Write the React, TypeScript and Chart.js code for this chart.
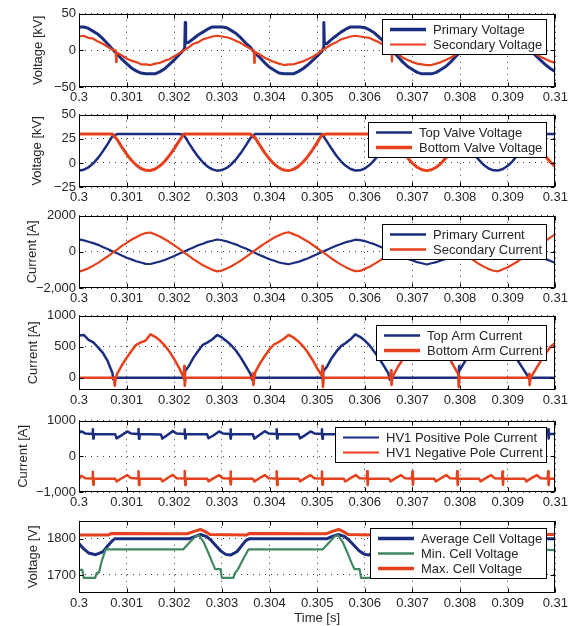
import React, { useEffect, useRef } from "react";
import { Chart, registerables } from "chart.js";

Chart.register(...registerables);

const FONT = '"Liberation Sans", Arial, Helvetica, sans-serif';
const TEXT = "#262626";
const BLUE = "#1b2d7f";
const RED = "#e5411c";
const GREEN = "#3f8862";

// ---------- shared time axis ----------
const TIME = [
  0.3, 0.3001, 0.3002, 0.3003, 0.3004, 0.3005, 0.3006, 0.3007, 0.3008, 0.3009,
  0.301, 0.3011, 0.3012, 0.3013, 0.3014, 0.3015, 0.3016, 0.3017, 0.3018, 0.3019,
  0.302, 0.3021, 0.3022, 0.3023, 0.3024, 0.3025, 0.3026, 0.3027, 0.3028, 0.3029,
  0.303, 0.3031, 0.3032, 0.3033, 0.3034, 0.3035, 0.3036, 0.3037, 0.3038, 0.3039,
  0.304, 0.3041, 0.3042, 0.3043, 0.3044, 0.3045, 0.3046, 0.3047, 0.3048, 0.3049,
  0.305, 0.3051, 0.3052, 0.3053, 0.3054, 0.3055, 0.3056, 0.3057, 0.3058, 0.3059,
  0.306, 0.3061, 0.3062, 0.3063, 0.3064, 0.3065, 0.3066, 0.3067, 0.3068, 0.3069,
  0.307, 0.3071, 0.3072, 0.3073, 0.3074, 0.3075, 0.3076, 0.3077, 0.3078, 0.3079,
  0.308, 0.3081, 0.3082, 0.3083, 0.3084, 0.3085, 0.3086, 0.3087, 0.3088, 0.3089,
  0.309, 0.3091, 0.3092, 0.3093, 0.3094, 0.3095, 0.3096, 0.3097, 0.3098, 0.3099,
  0.31,
];
const X_TICKS = [0.3, 0.301, 0.302, 0.303, 0.304, 0.305, 0.306, 0.307, 0.308, 0.309, 0.31];
const X_TICK_LABELS = ["0.3", "0.301", "0.302", "0.303", "0.304", "0.305", "0.306", "0.307", "0.308", "0.309", "0.31"];

// ---------- panel 1: voltages [kV] ----------
const PRIMARY_VOLTAGE = [
  32, 32, 30, 26, 22, 16, 9, 2, -5, -12,
  -18, -24, -28, -31, -32, -32, -32, -29, -25, -19,
  -13, -6, 1, 11, 16, 21, 25, 29, 32, 32,
  32, 31, 27, 23, 17, 10, 4, -4, -10, -17,
  -23, -27, -31, -32, -32, -32, -29, -25, -20, -14,
  -8, -1, 9, 15, 20, 25, 29, 32, 32, 32,
  31, 28, 24, 18, 12, 5, -2, -9, -16, -22,
  -26, -30, -32, -32, -32, -30, -26, -22, -16, -9,
  -2, 10, 14, 19, 24, 28, 31, 32, 32, 32,
  29, 25, 19, 13, 6, -1, -8, -14, -20, -25,
  -29,
];
const PRIMARY_VOLTAGE_SPIKES = [
  [0.30222, 4], [0.30223, 38], [0.30224, 10],
  [0.30513, 3], [0.30514, 38], [0.30515, 10],
  [0.30805, 2], [0.30806, 38], [0.30807, 9],
];
const SECONDARY_VOLTAGE = [
  19, 20, 17, 16, 12, 9, 5, 1, -3, -7,
  -11, -14, -16, -19, -19, -20, -18, -17, -14, -12,
  -8, -4, 0, 4, 9, 11, 15, 17, 19, 20,
  19, 18, 16, 13, 10, 6, 2, -2, -6, -10,
  -13, -16, -18, -20, -19, -19, -17, -15, -12, -9,
  -5, 0, 4, 8, 11, 15, 17, 19, 20, 19,
  18, 17, 14, 11, 7, 3, -1, -5, -10, -13,
  -16, -18, -19, -20, -20, -18, -16, -13, -10, -6,
  -1, 3, 7, 11, 14, 16, 19, 20, 20, 19,
  17, 15, 12, 8, 4, 0, -5, -9, -12, -15,
  -17,
];
const SECONDARY_VOLTAGE_SPIKES = [
  [0.30077, 0], [0.30078, -16], [0.30079, -3],
  [0.30367, 0], [0.30368, -17], [0.30369, -2],
  [0.30656, 0], [0.30657, -15], [0.30658, -1],
];
const P1_Y_TICKS = [-50, -25, 0, 25, 50];
const P1_Y_LABELS = ["\u221250", "\u221225", "0", "25", "50"];

// ---------- panel 2: valve voltages [kV] ----------
const TOP_VALVE_VOLTAGE = [
  -8, -7, -4.5, -0.4, 5.2, 12, 19.5, 27.5, 30, 30,
  30, 30, 30, 30, 30, 30, 30, 30, 30, 30,
  30, 30, 29.2, 21.1, 13.4, 6.5, 0.7, -3.8, -6.7, -8,
  -7.4, -5.2, -1.3, 4, 10.5, 18, 25.9, 30, 30, 30,
  30, 30, 30, 30, 30, 30, 30, 30, 30, 30,
  30, 30, 22.7, 14.9, 7.8, 1.7, -3, -6.3, -7.8, -7.7,
  -5.8, -2.2, 2.8, 9.1, 16.4, 24.3, 30, 30, 30, 30,
  30, 30, 30, 30, 30, 30, 30, 30, 30, 30,
  30, 24.3, 16.4, 9.1, 2.8, -2.2, -5.8, -7.7, -7.8, -6.3,
  -3, 1.7, 7.8, 14.9, 22.7, 30, 30, 30, 30, 30,
  30,
];
const BOTTOM_VALVE_VOLTAGE = [
  30, 30, 30, 30, 30, 30, 30, 30, 24.3, 16.4,
  9.1, 2.8, -2.2, -5.8, -7.7, -7.8, -6.3, -3, 1.7, 7.8,
  14.9, 22.7, 30, 30, 30, 30, 30, 30, 30, 30,
  30, 30, 30, 30, 30, 30, 30, 25.9, 18, 10.5,
  4, -1.3, -5.2, -7.4, -8, -6.7, -3.8, 0.7, 6.5, 13.4,
  21.1, 29.2, 30, 30, 30, 30, 30, 30, 30, 30,
  30, 30, 30, 30, 30, 30, 27.5, 19.5, 12, 5.2,
  -0.4, -4.5, -7.1, -8, -7.1, -4.5, -0.4, 5.2, 12, 19.5,
  27.5, 30, 30, 30, 30, 30, 30, 30, 30, 30,
  30, 30, 30, 30, 30, 29.2, 21.1, 13.4, 6.5, 0.7,
  -3.8,
];
const P2_Y_TICKS = [-25, 0, 25, 50];
const P2_Y_LABELS = ["\u221225", "0", "25", "50"];

// ---------- panel 3: currents [A] ----------
const PRIMARY_CURRENT = [
  690, 640, 560, 485, 390, 270, 160, 40, -80, -205,
  -320, -415, -520, -590, -665, -670, -600, -535, -445, -335,
  -230, -105, 10, 135, 245, 365, 455, 555, 615, 685,
  645, 585, 490, 405, 290, 185, 60, -60, -185, -290,
  -405, -490, -585, -640, -685, -615, -555, -455, -365, -245,
  -135, -10, 110, 225, 345, 435, 540, 600, 675, 655,
  600, 510, 430, 310, 210, 80, -35, -160, -265, -385,
  -470, -570, -630, -695, -630, -570, -470, -385, -265, -160,
  -35, 90, 200, 320, 415, 520, 590, 665, 665, 615,
  525, 445, 335, 230, 105, -15, -135, -260, -400, -500,
  -610,
];
const SECONDARY_CURRENT = [
  -1100, -1010, -905, -760, -610, -430, -255, -55, 130, 330,
  500, 675, 815, 950, 1045, 1075, 965, 850, 700, 545,
  360, 180, -25, -210, -400, -570, -740, -870, -995, -1080,
  -1035, -920, -795, -635, -475, -285, -95, 100, 285, 475,
  635, 795, 920, 1035, 1090, 985, 880, 730, 580, 395,
  215, 15, -170, -365, -535, -705, -845, -975, -1065, -1055,
  -940, -825, -665, -510, -320, -140, 60, 245, 440, 600,
  770, 895, 1015, 1095, 1010, 905, 760, 610, 430, 255,
  55, -130, -330, -500, -675, -815, -950, -1045, -1075, -965,
  -850, -700, -545, -360, -180, 25, 210, 400, 620, 800,
  980,
];
const P3_Y_TICKS = [-2000, -1000, 0, 1000, 2000];
const P3_Y_LABELS = ["\u22122,000", "\u22121,000", "0", "1,000", "2000"];

// ---------- panel 4: arm currents [A] ----------
const TOP_ARM_CURRENT = [
  680, 690, 610, 570, 490, 400, 270, 80, 0, 0,
  0, 0, 0, 0, 0, 0, 0, 0, 0, 0,
  0, 0, 0, 180, 320, 430, 530, 570, 620, 690,
  650, 590, 520, 430, 320, 190, 60, 0, 0, 0,
  0, 0, 0, 0, 0, 0, 0, 0, 0, 0,
  0, 0, 170, 310, 420, 510, 560, 620, 700, 660,
  600, 520, 420, 310, 190, 60, 0, 0, 0, 0,
  0, 0, 0, 0, 0, 0, 0, 0, 0, 0,
  130, 260, 380, 480, 550, 600, 650, 690, 650, 590,
  500, 400, 290, 170, 50, 0, 0, 0, 0, 0,
  0,
];
const TOP_ARM_SPIKES = [
  [0.30072, -30], [0.30075, 0],
  [0.30221, 0], [0.30222, -40], [0.30223, 110],
  [0.30363, -30], [0.30366, 0],
  [0.30511, 0], [0.30512, -40], [0.30513, 110],
  [0.30652, -30], [0.30655, 0],
  [0.30796, 0], [0.30797, -40], [0.30798, 190],
  [0.30946, -30], [0.30949, 0],
];
const BOTTOM_ARM_CURRENT = [
  0, 0, 0, 0, 0, 0, 0, 0, 60, 200,
  320, 430, 530, 570, 600, 700, 660, 600, 520, 420,
  300, 160, 0, 0, 0, 0, 0, 0, 0, 0,
  0, 0, 0, 0, 0, 0, 0, 90, 230, 350,
  460, 540, 580, 630, 690, 650, 590, 510, 410, 290,
  150, 30, 0, 0, 0, 0, 0, 0, 0, 0,
  0, 0, 0, 0, 0, 0, 40, 180, 300, 420,
  510, 570, 610, 690, 650, 590, 510, 400, 280, 140,
  0, 0, 0, 0, 0, 0, 0, 0, 0, 0,
  0, 0, 0, 0, 0, 20, 150, 280, 400, 500,
  560,
];
const BOTTOM_ARM_SPIKES = [
  [0.30073, 0], [0.30075, -130], [0.30077, -10],
  [0.30221, 190], [0.30222, -130], [0.30224, 0],
  [0.30364, 0], [0.30365, 70], [0.30366, -120], [0.30368, 0],
  [0.30511, 190], [0.30512, -150], [0.30514, 0],
  [0.30654, 0], [0.30655, 120], [0.30656, -120], [0.30658, 0],
  [0.30796, 60], [0.30797, -150], [0.30799, 0],
  [0.30944, 0], [0.30945, 60], [0.30946, -120], [0.30948, 0],
];
const P4_Y_TICKS = [0, 500, 1000];
const P4_Y_LABELS = ["0", "500", "1000"];

// ---------- panel 5: pole currents [A] ----------
const POSITIVE_POLE_CURRENT = [
  [0.3, 660], [0.30005, 705], [0.30013, 645],
  [0.30028, 630], [0.30029, 760], [0.3003, 500], [0.30031, 630],
  [0.30076, 620], [0.30079, 505], [0.30089, 590], [0.30101, 700], [0.30109, 645],
  [0.30124, 632], [0.30125, 770], [0.30126, 495], [0.30127, 628],
  [0.30172, 618], [0.30175, 500], [0.30185, 595], [0.30197, 710], [0.30205, 642],
  [0.30221, 630], [0.30222, 755], [0.30223, 505], [0.30224, 630],
  [0.30269, 620], [0.30272, 510], [0.30282, 588], [0.30294, 700], [0.30302, 646],
  [0.30317, 628], [0.30318, 765], [0.30319, 495], [0.3032, 630],
  [0.30365, 622], [0.30368, 498], [0.30378, 592], [0.3039, 708], [0.30398, 644],
  [0.30414, 632], [0.30415, 760], [0.30416, 500], [0.30417, 628],
  [0.30461, 620], [0.30464, 505], [0.30474, 590], [0.30486, 702], [0.30494, 644],
  [0.30509, 630], [0.3051, 765], [0.30511, 498], [0.30512, 630],
  [0.30556, 620], [0.30559, 502], [0.30569, 592], [0.30581, 706], [0.30589, 644],
  [0.30604, 630], [0.30605, 760], [0.30606, 500], [0.30607, 630],
  [0.30651, 620], [0.30654, 500], [0.30664, 590], [0.30676, 705], [0.30684, 644],
  [0.30699, 630], [0.307, 760], [0.30701, 500], [0.30702, 630],
  [0.30746, 620], [0.30749, 500], [0.30759, 590], [0.30771, 705], [0.30779, 644],
  [0.30793, 630], [0.30794, 760], [0.30795, 500], [0.30796, 630],
  [0.3084, 620], [0.30843, 500], [0.30853, 590], [0.30865, 705], [0.30873, 644],
  [0.30888, 630], [0.30889, 760], [0.3089, 500], [0.30891, 630],
  [0.30936, 620], [0.30939, 500], [0.30949, 590], [0.30961, 705], [0.30969, 644],
  [0.30984, 630], [0.30985, 765], [0.30986, 500], [0.30987, 630],
  [0.31, 632],
];
const NEGATIVE_POLE_CURRENT = [
  [0.3, -635], [0.30005, -545], [0.30013, -612],
  [0.30028, -620], [0.30029, -430], [0.3003, -795], [0.30031, -620],
  [0.30076, -628], [0.30079, -700], [0.30089, -620], [0.30101, -525], [0.30109, -610],
  [0.30124, -620], [0.30125, -420], [0.30126, -800], [0.30127, -618],
  [0.30172, -628], [0.30175, -705], [0.30185, -615], [0.30197, -520], [0.30205, -612],
  [0.30221, -620], [0.30222, -410], [0.30223, -805], [0.30224, -620],
  [0.30269, -626], [0.30272, -700], [0.30282, -618], [0.30294, -528], [0.30302, -614],
  [0.30317, -620], [0.30318, -425], [0.30319, -790], [0.3032, -620],
  [0.30365, -628], [0.30368, -702], [0.30378, -620], [0.3039, -524], [0.30398, -612],
  [0.30414, -620], [0.30415, -420], [0.30416, -800], [0.30417, -620],
  [0.30461, -628], [0.30464, -700], [0.30474, -618], [0.30486, -526], [0.30494, -613],
  [0.30509, -620], [0.3051, -425], [0.30511, -795], [0.30512, -620],
  [0.30556, -628], [0.30559, -704], [0.30569, -619], [0.30581, -525], [0.30589, -612],
  [0.30604, -620], [0.30605, -420], [0.30606, -800], [0.30607, -620],
  [0.30651, -628], [0.30654, -700], [0.30664, -618], [0.30676, -526], [0.30684, -613],
  [0.30699, -620], [0.307, -425], [0.30701, -795], [0.30702, -620],
  [0.30746, -628], [0.30749, -702], [0.30759, -620], [0.30771, -524], [0.30779, -612],
  [0.30793, -620], [0.30794, -420], [0.30795, -800], [0.30796, -620],
  [0.3084, -628], [0.30843, -700], [0.30853, -618], [0.30865, -526], [0.30873, -613],
  [0.30888, -620], [0.30889, -425], [0.3089, -795], [0.30891, -620],
  [0.30936, -628], [0.30939, -702], [0.30949, -619], [0.30961, -525], [0.30969, -612],
  [0.30984, -620], [0.30985, -420], [0.30986, -800], [0.30987, -620],
  [0.31, -625],
];
const P5_Y_TICKS = [-1000, -500, 0, 500, 1000];
const P5_Y_LABELS = ["\u22121,000", "\u2212500", "0", "500", "1000"];

// ---------- panel 6: cell voltages [V] ----------
const AVERAGE_CELL_VOLTAGE = [
  [0.3, 1787], [0.3001, 1772], [0.3002, 1761], [0.30035, 1756], [0.3005, 1764], [0.3006, 1780],
  [0.3007, 1795], [0.30075, 1800], [0.3023, 1800], [0.3024, 1805], [0.30255, 1812], [0.30268, 1806],
  [0.30278, 1795], [0.30288, 1780], [0.30298, 1766], [0.30308, 1757], [0.30318, 1755], [0.30332, 1765],
  [0.30342, 1782], [0.3035, 1795], [0.30357, 1800], [0.3052, 1800], [0.3053, 1806], [0.30545, 1812],
  [0.30558, 1806], [0.30568, 1795], [0.30578, 1781], [0.30588, 1767], [0.30598, 1758], [0.30608, 1755],
  [0.30622, 1765], [0.30632, 1782], [0.3064, 1795], [0.30648, 1800], [0.3081, 1800], [0.3082, 1806],
  [0.30837, 1812], [0.3085, 1806], [0.3086, 1795], [0.3087, 1781], [0.3088, 1767], [0.3089, 1758],
  [0.309, 1755], [0.30914, 1765], [0.30924, 1782], [0.30932, 1795], [0.3094, 1800], [0.31, 1800],
];
const MIN_CELL_VOLTAGE = [
  [0.3, 1714], [0.30007, 1714], [0.3001, 1692], [0.30034, 1692], [0.30037, 1705], [0.30042, 1707],
  [0.30048, 1740], [0.30056, 1771], [0.30219, 1771], [0.30232, 1790], [0.30245, 1807], [0.30252, 1810],
  [0.30262, 1790], [0.30272, 1760], [0.3028, 1734], [0.30286, 1716], [0.30297, 1716], [0.303, 1692],
  [0.30324, 1692], [0.30327, 1705], [0.30333, 1714], [0.30345, 1745], [0.30356, 1771], [0.30512, 1771],
  [0.30525, 1790], [0.30537, 1807], [0.30544, 1810], [0.30554, 1790], [0.30564, 1760], [0.30572, 1734],
  [0.30578, 1716], [0.30589, 1716], [0.30592, 1692], [0.30616, 1692], [0.30619, 1705], [0.30625, 1714],
  [0.30637, 1745], [0.30648, 1771], [0.30804, 1771], [0.30817, 1790], [0.30829, 1807], [0.30836, 1810],
  [0.30846, 1790], [0.30856, 1760], [0.30864, 1734], [0.3087, 1716], [0.30881, 1716], [0.30884, 1692],
  [0.30908, 1692], [0.30911, 1705], [0.30917, 1714], [0.30929, 1745], [0.3094, 1771], [0.31, 1769],
];
const MAX_CELL_VOLTAGE = [
  [0.3, 1811], [0.30062, 1811], [0.30068, 1815], [0.30227, 1814], [0.30245, 1822], [0.30255, 1826],
  [0.30265, 1820], [0.30275, 1812], [0.30352, 1811], [0.30358, 1815], [0.30518, 1814], [0.30535, 1822],
  [0.30545, 1826], [0.30555, 1820], [0.30565, 1812], [0.30644, 1810], [0.3065, 1814], [0.3081, 1813],
  [0.30827, 1822], [0.30837, 1826], [0.30847, 1820], [0.30857, 1812], [0.30936, 1811], [0.30942, 1813],
  [0.31, 1812],
];
const P6_Y_TICKS = [1700, 1800];
const P6_Y_LABELS = ["1700", "1800"];

// ---------- helpers ----------
function merge(base: number[], extra: number[][] = []) {
  const pts = base.map((y, i) => ({ x: TIME[i], y }));
  extra.forEach(([x, y]) => pts.push({ x, y }));
  return pts.sort((p, q) => p.x - q.x);
}
function pairs(list: number[][]) {
  return list.map(([x, y]) => ({ x, y }));
}

const PAD_TOP = 10;

const PANELS: any[] = [
  {
    plotTop: 13, plotHeight: 74, yMin: -50, yMax: 50, yTicks: P1_Y_TICKS, yLabels: P1_Y_LABELS,
    yTitle: "Voltage [kV]", yTitleX: 38, legendTop: 5,
    series: [
      { label: "Primary Voltage", color: BLUE, width: 3, legendWidth: 3.5, points: merge(PRIMARY_VOLTAGE, PRIMARY_VOLTAGE_SPIKES) },
      { label: "Secondary Voltage", color: RED, width: 2.2, legendWidth: 2, points: merge(SECONDARY_VOLTAGE, SECONDARY_VOLTAGE_SPIKES) },
    ],
  },
  {
    plotTop: 114, plotHeight: 73, yMin: -25, yMax: 50, yTicks: P2_Y_TICKS, yLabels: P2_Y_LABELS,
    yTitle: "Voltage [kV]", yTitleX: 37, legendTop: 7,
    series: [
      { label: "Top Valve Voltage", color: BLUE, width: 2.5, legendWidth: 2.5, points: merge(TOP_VALVE_VOLTAGE) },
      { label: "Bottom Valve Voltage", color: RED, width: 3, legendWidth: 3.5, points: merge(BOTTOM_VALVE_VOLTAGE) },
    ],
  },
  {
    plotTop: 215, plotHeight: 73, yMin: -2000, yMax: 2000, yTicks: P3_Y_TICKS, yLabels: P3_Y_LABELS,
    yTitle: "Current [A]", yTitleX: 32, legendTop: 8,
    series: [
      { label: "Primary Current", color: BLUE, width: 2.2, legendWidth: 2.5, points: merge(PRIMARY_CURRENT) },
      { label: "Secondary Current", color: RED, width: 2.2, legendWidth: 2.5, points: merge(SECONDARY_CURRENT) },
    ],
  },
  {
    plotTop: 315, plotHeight: 75, yMin: -200, yMax: 1000, yTicks: P4_Y_TICKS, yLabels: P4_Y_LABELS,
    yTitle: "Current [A]", yTitleX: 33, legendTop: 9,
    series: [
      { label: "Top Arm Current", color: BLUE, width: 2.5, legendWidth: 2.5, points: merge(TOP_ARM_CURRENT, TOP_ARM_SPIKES) },
      { label: "Bottom Arm Current", color: RED, width: 2.5, legendWidth: 3.5, points: merge(BOTTOM_ARM_CURRENT, BOTTOM_ARM_SPIKES) },
    ],
  },
  {
    plotTop: 420, plotHeight: 72, yMin: -1000, yMax: 1000, yTicks: P5_Y_TICKS, yLabels: P5_Y_LABELS,
    yTitle: "Current [A]", yTitleX: 23, legendTop: 6,
    series: [
      { label: "HV1 Positive Pole Current", color: BLUE, width: 2.5, legendWidth: 2.2, points: pairs(POSITIVE_POLE_CURRENT) },
      { label: "HV1 Negative Pole Current", color: RED, width: 2.5, legendWidth: 2.2, points: pairs(NEGATIVE_POLE_CURRENT) },
    ],
  },
  {
    plotTop: 520, plotHeight: 73, yMin: 1650, yMax: 1850, yTicks: P6_Y_TICKS, yLabels: P6_Y_LABELS,
    yTitle: "Voltage [V]", yTitleX: 33, legendTop: 7, xTitle: "Time [s]",
    series: [
      { label: "Average Cell Voltage", color: BLUE, width: 3, legendWidth: 3.5, points: pairs(AVERAGE_CELL_VOLTAGE) },
      { label: "Min. Cell Voltage", color: GREEN, width: 2.2, legendWidth: 2.5, points: pairs(MIN_CELL_VOLTAGE) },
      { label: "Max. Cell Voltage", color: RED, width: 3, legendWidth: 3.5, points: pairs(MAX_CELL_VOLTAGE) },
    ],
  },
];

const framePlugin = {
  id: "frame",
  afterDatasetsDraw(chart: any, _args: any, opts: any) {
    const { ctx, chartArea: a, scales } = chart;
    const L = Math.round(a.left) + 0.5;
    const R = Math.round(a.right) - 0.5;
    const T = Math.round(a.top) + 0.5;
    const B = Math.round(a.bottom) - 0.5;
    ctx.save();
    ctx.setLineDash([]);
    ctx.strokeStyle = "#000";
    ctx.lineWidth = 1;
    ctx.beginPath();
    scales.x.ticks.forEach((t: any) => {
      const px = Math.round(scales.x.getPixelForValue(t.value)) + 0.5;
      ctx.moveTo(px, B); ctx.lineTo(px, B - 4);
      ctx.moveTo(px, T); ctx.lineTo(px, T + 4);
    });
    scales.y.ticks.forEach((t: any) => {
      const py = Math.round(scales.y.getPixelForValue(t.value)) + 0.5;
      ctx.moveTo(L, py); ctx.lineTo(L + 4, py);
      ctx.moveTo(R, py); ctx.lineTo(R - 4, py);
    });
    ctx.stroke();
    ctx.strokeRect(L, T, R - L, B - T);

    // legend box
    const ds = chart.data.datasets;
    ctx.font = `13px ${FONT}`;
    const tw = Math.max(...ds.map((d: any) => ctx.measureText(d.label).width));
    const w = Math.ceil(tw + 55);
    const h = 21 + 15 * (ds.length - 1);
    const right = Math.round(a.right) - 8;
    const left = right - w;
    const top = Math.round(a.top) + (opts && opts.legendTop != null ? opts.legendTop : 6);
    ctx.fillStyle = "#fff";
    ctx.fillRect(left, top, w, h);
    ctx.strokeStyle = "#000";
    ctx.lineWidth = 1;
    ctx.strokeRect(left + 0.5, top + 0.5, w - 1, h - 1);
    ds.forEach((d: any, k: number) => {
      const cy = top + 10.5 + 15 * k;
      ctx.strokeStyle = d.borderColor;
      ctx.lineWidth = d.legendWidth;
      ctx.beginPath();
      ctx.moveTo(left + 8, cy);
      ctx.lineTo(left + 44, cy);
      ctx.stroke();
      ctx.fillStyle = TEXT;
      ctx.textAlign = "left";
      ctx.textBaseline = "middle";
      ctx.fillText(d.label, left + 51, cy + 0.5);
    });
    ctx.restore();
  },
};

function PanelChart({ panel }: { panel: any }) {
  const ref = useRef<HTMLCanvasElement>(null);
  const last = !!panel.xTitle;
  const height = PAD_TOP + panel.plotHeight + (last ? 33 : 22);

  useEffect(() => {
    const n = panel.series.length;
    const chart = new Chart(ref.current as HTMLCanvasElement, {
      type: "line",
      data: {
        datasets: panel.series.map((s: any, k: number) => ({
          label: s.label,
          data: s.points,
          borderColor: s.color,
          backgroundColor: s.color,
          borderWidth: s.width,
          legendWidth: s.legendWidth,
          pointRadius: 0,
          tension: 0,
          fill: false,
          borderJoinStyle: "round",
          order: n - k,
        })),
      },
      options: {
        responsive: false,
        animation: false,
        devicePixelRatio: 1,
        events: [],
        layout: { padding: { top: PAD_TOP, right: 15, left: 0, bottom: 0 } },
        plugins: {
          legend: { display: false },
          tooltip: { enabled: false },
          frame: { legendTop: panel.legendTop },
        },
        scales: {
          x: {
            type: "linear",
            min: 0.3,
            max: 0.31,
            afterBuildTicks: (s: any) => {
              s.ticks = X_TICKS.map((v) => ({ value: v }));
            },
            afterFit: (s: any) => {
              s.height = last ? 33 : 22;
            },
            ticks: {
              autoSkip: false,
              maxRotation: 0,
              padding: 3,
              color: TEXT,
              font: { family: FONT, size: 13 },
              callback: (v: any) => {
                const k = X_TICKS.indexOf(v);
                return k >= 0 ? X_TICK_LABELS[k] : "";
              },
            },
            grid: { color: "rgba(0,0,0,0.75)", lineWidth: 1, drawTicks: false },
            border: { display: false, dash: [1, 5] },
            title: last
              ? { display: true, text: panel.xTitle, color: TEXT, font: { family: FONT, size: 13 }, padding: { top: 0, bottom: 0 } }
              : { display: false },
          },
          y: {
            type: "linear",
            min: panel.yMin,
            max: panel.yMax,
            afterBuildTicks: (s: any) => {
              s.ticks = panel.yTicks.map((v: number) => ({ value: v }));
            },
            afterFit: (s: any) => {
              s.width = 79;
            },
            ticks: {
              padding: 3,
              color: TEXT,
              font: { family: FONT, size: 13 },
              callback: (v: any) => {
                const k = panel.yTicks.indexOf(v);
                return k >= 0 ? panel.yLabels[k] : "";
              },
            },
            grid: { color: "rgba(0,0,0,0.75)", lineWidth: 1, drawTicks: false },
            border: { display: false, dash: [1, 5] },
            title: {
              display: true,
              text: panel.yTitle,
              color: TEXT,
              font: { family: FONT, size: 13 },
              padding: { top: panel.yTitleX - 7.8, bottom: 0 },
            },
          },
        },
      } as any,
      plugins: [framePlugin as any],
    });
    return () => chart.destroy();
  }, []);

  return (
    <canvas
      ref={ref}
      width={571}
      height={height}
      style={{ position: "absolute", left: 0, top: panel.plotTop - PAD_TOP, width: 571, height }}
    />
  );
}

export default function App() {
  return (
    <div style={{ position: "absolute", left: 0, top: 0, width: 571, height: 626, background: "#fff", overflow: "hidden" }}>
      {PANELS.map((p, i) => (
        <PanelChart key={i} panel={p} />
      ))}
    </div>
  );
}
